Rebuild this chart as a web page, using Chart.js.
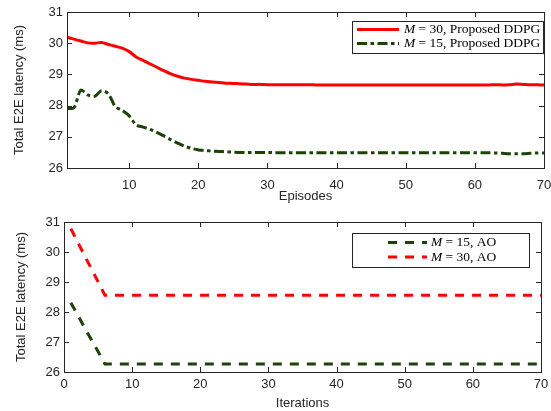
<!DOCTYPE html>
<html>
<head>
<meta charset="utf-8">
<script src="https://cdn.jsdelivr.net/npm/chart.js@4.4.0/dist/chart.umd.min.js"></script>
<style>
  html, body { margin: 0; padding: 0; background: #fff; }
  #wrap { position: relative; width: 551px; height: 411px; }
  .panel { position: absolute; left: 0; }
  #top { top: 0; }
  #bottom { top: 205px; }
</style>
</head>
<body>
<div id="wrap">
  <div class="panel" id="top"><canvas id="ddpgChart" width="551" height="205"></canvas></div>
  <div class="panel" id="bottom"><canvas id="aoChart" width="551" height="206"></canvas></div>
</div>
<script>
// x positions (episodes / iterations)
var episodes = Array.from({ length: 70 }, function (_, i) { return i + 1; });
var iterations = Array.from({ length: 70 }, function (_, i) { return i + 1; });

// DDPG training curves, latency in ms
var ddpgM30 = [
    30.19, 30.13, 30.07, 30.01, 30.00, 30.02, 29.96, 29.90, 29.84, 29.73,
    29.56, 29.45, 29.34, 29.23, 29.12, 29.02, 28.94, 28.88, 28.84, 28.81,
    28.78, 28.76, 28.74, 28.72, 28.71, 28.70, 28.69, 28.68, 28.68, 28.67,
    28.67, 28.67, 28.67, 28.67, 28.67, 28.67, 28.66, 28.66, 28.66, 28.66,
    28.66, 28.66, 28.66, 28.66, 28.66, 28.66, 28.66, 28.66, 28.66, 28.66,
    28.66, 28.66, 28.66, 28.66, 28.66, 28.66, 28.66, 28.66, 28.66, 28.66,
    28.66, 28.66, 28.67, 28.66, 28.67, 28.69, 28.68, 28.67, 28.67, 28.66
];
var ddpgM15 = [
    27.91, 27.93, 28.50, 28.34, 28.30, 28.48, 28.37, 27.96, 27.85, 27.67,
    27.38, 27.31, 27.24, 27.14, 27.03, 26.91, 26.80, 26.70, 26.63, 26.58,
    26.56, 26.54, 26.53, 26.52, 26.51, 26.50, 26.50, 26.50, 26.50, 26.50,
    26.49, 26.49, 26.49, 26.49, 26.49, 26.49, 26.49, 26.49, 26.49, 26.49,
    26.49, 26.49, 26.49, 26.49, 26.49, 26.49, 26.49, 26.49, 26.49, 26.49,
    26.49, 26.49, 26.49, 26.49, 26.49, 26.49, 26.49, 26.49, 26.49, 26.49,
    26.49, 26.49, 26.48, 26.47, 26.46, 26.46, 26.46, 26.47, 26.48, 26.48
];

// AO iterations, latency in ms
var aoM15 = [
    28.31, 27.90, 27.49, 27.08, 26.68, 26.27, 26.27, 26.27, 26.27, 26.27,
    26.27, 26.27, 26.27, 26.27, 26.27, 26.27, 26.27, 26.27, 26.27, 26.27,
    26.27, 26.27, 26.27, 26.27, 26.27, 26.27, 26.27, 26.27, 26.27, 26.27,
    26.27, 26.27, 26.27, 26.27, 26.27, 26.27, 26.27, 26.27, 26.27, 26.27,
    26.27, 26.27, 26.27, 26.27, 26.27, 26.27, 26.27, 26.27, 26.27, 26.27,
    26.27, 26.27, 26.27, 26.27, 26.27, 26.27, 26.27, 26.27, 26.27, 26.27,
    26.27, 26.27, 26.27, 26.27, 26.27, 26.27, 26.27, 26.27, 26.27, 26.27
];
var aoM30 = [
    30.78, 30.33, 29.89, 29.45, 29.01, 28.56, 28.56, 28.56, 28.56, 28.56,
    28.56, 28.56, 28.56, 28.56, 28.56, 28.56, 28.56, 28.56, 28.56, 28.56,
    28.56, 28.56, 28.56, 28.56, 28.56, 28.56, 28.56, 28.56, 28.56, 28.56,
    28.56, 28.56, 28.56, 28.56, 28.56, 28.56, 28.56, 28.56, 28.56, 28.56,
    28.56, 28.56, 28.56, 28.56, 28.56, 28.56, 28.56, 28.56, 28.56, 28.56,
    28.56, 28.56, 28.56, 28.56, 28.56, 28.56, 28.56, 28.56, 28.56, 28.56,
    28.56, 28.56, 28.56, 28.56, 28.56, 28.56, 28.56, 28.56, 28.56, 28.56
];

// tick labels
var episodeTicks = [10, 20, 30, 40, 50, 60, 70];
var iterationTicks = [0, 10, 20, 30, 40, 50, 60, 70];
var latencyTicks = [26, 27, 28, 29, 30, 31];

var RED = '#ff0000';
var GREEN = '#1c4208';
var INK = '#262626';
var sansFont = { family: '"Liberation Sans", Arial, sans-serif', size: 13 };

function points(xs, ys) {
    return xs.map(function (x, i) { return { x: x, y: ys[i] }; });
}

// box around the plot area plus inward ticks on all four sides
var frameTicks = {
    id: 'frameTicks',
    afterDatasetsDraw: function (chart) {
        var ctx = chart.ctx, a = chart.chartArea;
        var xs = chart.scales.x, ys = chart.scales.y;
        ctx.save();
        ctx.strokeStyle = INK;
        ctx.lineWidth = 1;
        ctx.beginPath();
        xs.ticks.forEach(function (t) {
            var px = Math.round(xs.getPixelForValue(t.value)) + 0.5;
            ctx.moveTo(px, a.bottom); ctx.lineTo(px, a.bottom - 5);
            ctx.moveTo(px, a.top); ctx.lineTo(px, a.top + 5);
        });
        ys.ticks.forEach(function (t) {
            var py = Math.round(ys.getPixelForValue(t.value)) + 0.5;
            ctx.moveTo(a.left, py); ctx.lineTo(a.left + 5, py);
            ctx.moveTo(a.right, py); ctx.lineTo(a.right - 5, py);
        });
        ctx.stroke();
        ctx.strokeRect(Math.round(a.left) + 0.5, Math.round(a.top) + 0.5,
            Math.round(a.right - a.left), Math.round(a.bottom - a.top));
        ctx.restore();
    }
};

// legend with an italic M, like the LaTeX labels
var mathLegend = {
    id: 'mathLegend',
    afterDraw: function (chart, args, opts) {
        var ctx = chart.ctx;
        var b = opts.box;
        ctx.save();
        ctx.fillStyle = '#fff';
        ctx.fillRect(b[0], b[1], b[2], b[3]);
        ctx.strokeStyle = INK;
        ctx.lineWidth = 1;
        ctx.strokeRect(b[0] + 0.5, b[1] + 0.5, b[2], b[3]);
        ctx.textBaseline = 'middle';
        chart.data.datasets.forEach(function (ds, i) {
            var y = opts.rows[i];
            ctx.beginPath();
            ctx.strokeStyle = ds.borderColor;
            ctx.lineWidth = ds.borderWidth;
            ctx.setLineDash(ds.borderDash || []);
            ctx.moveTo(opts.line[0], y);
            ctx.lineTo(opts.line[1], y);
            ctx.stroke();
            ctx.setLineDash([]);
            var x = opts.textX;
            ctx.fillStyle = '#000';
            ctx.font = 'italic 13.5px "Liberation Serif", "DejaVu Serif", serif';
            ctx.fillText('M', x, y);
            x += ctx.measureText('M').width;
            ctx.font = '13.5px "Liberation Serif", "DejaVu Serif", serif';
            ctx.fillText(ds.label.slice(1), x, y);
        });
        ctx.restore();
    }
};

function axes(cfg) {
    return {
        x: {
            type: 'linear', min: cfg.xMin, max: 70,
            grid: { display: false, drawTicks: false },
            border: { display: false },
            afterBuildTicks: function (s) { s.ticks = cfg.xTicks.map(function (v) { return { value: v }; }); },
            afterFit: function (s) { s.height = cfg.xHeight; s.paddingLeft = 0; s.paddingRight = 0; },
            ticks: { font: sansFont, color: INK, padding: cfg.xPad, maxRotation: 0 },
            title: { display: true, text: cfg.xTitle, font: sansFont, color: INK, padding: { top: 0, bottom: cfg.titlePad } }
        },
        y: {
            min: 26, max: 31,
            grid: { display: false, drawTicks: false },
            border: { display: false },
            afterBuildTicks: function (s) { s.ticks = latencyTicks.map(function (v) { return { value: v }; }); },
            afterFit: function (s) { s.width = cfg.yWidth; s.paddingTop = 0; s.paddingBottom = 0; },
            ticks: { font: sansFont, color: INK, padding: 4 },
            title: { display: true, text: 'Total E2E latency (ms)', font: sansFont, color: INK, padding: { top: cfg.yTitlePad, bottom: 0 } }
        }
    };
}

var ddpgChart = new Chart(document.getElementById('ddpgChart'), {
    type: 'line',
    data: {
        datasets: [{
            label: 'M = 30, Proposed DDPG',
            data: points(episodes, ddpgM30),
            borderColor: RED,
            borderWidth: 3,
            pointRadius: 0,
            tension: 0.3
        }, {
            label: 'M = 15, Proposed DDPG',
            data: points(episodes, ddpgM15),
            borderColor: GREEN,
            borderWidth: 3,
            borderDash: [10, 3.5, 3.5, 3.5],
            pointRadius: 0,
            tension: 0.3
        }]
    },
    options: {
        responsive: false,
        animation: false,
        layout: { padding: { top: 12, right: 7, left: 0, bottom: 0 } },
        plugins: {
            legend: { display: false },
            tooltip: { enabled: false },
            mathLegend: { box: [352, 21, 191, 32], rows: [29.5, 43.5], line: [357, 399], textX: 404 }
        },
        scales: axes({ xMin: 1, xTicks: episodeTicks, xHeight: 37, xPad: 10, xTitle: 'Episodes', titlePad: 1, yWidth: 67, yTitlePad: 12 })
    },
    plugins: [frameTicks, mathLegend]
});

var aoChart = new Chart(document.getElementById('aoChart'), {
    type: 'line',
    data: {
        datasets: [{
            label: 'M = 15, AO',
            data: points(iterations, aoM15),
            borderColor: GREEN,
            borderWidth: 3,
            borderDash: [9, 8],
            pointRadius: 0
        }, {
            label: 'M = 30, AO',
            data: points(iterations, aoM30),
            borderColor: RED,
            borderWidth: 3,
            borderDash: [9, 8],
            pointRadius: 0
        }]
    },
    options: {
        responsive: false,
        animation: false,
        layout: { padding: { top: 17, right: 10, left: 0, bottom: 0 } },
        plugins: {
            legend: { display: false },
            tooltip: { enabled: false },
            mathLegend: { box: [352, 28, 177, 34], rows: [37.5, 52], line: [388, 427], textX: 431 }
        },
        scales: axes({ xMin: 0, xTicks: iterationTicks, xHeight: 39, xPad: 5, xTitle: 'Iterations', titlePad: 0, yWidth: 64, yTitlePad: 14 })
    },
    plugins: [frameTicks, mathLegend]
});
</script>
</body>
</html>
